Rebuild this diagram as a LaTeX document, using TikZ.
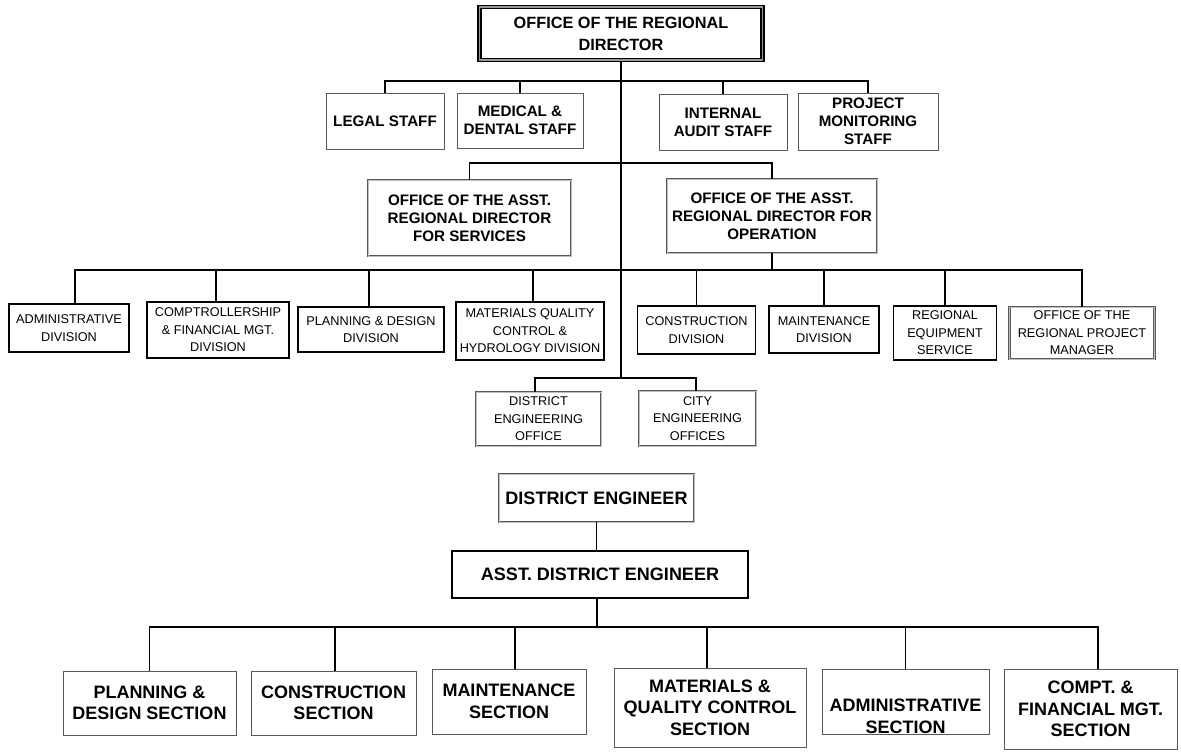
\documentclass[tikz,border=0pt]{standalone}
\usepackage{fontspec}
\setmainfont{Liberation Sans}
\begin{document}
\begin{tikzpicture}[x=1pt,y=-1pt,
  conn/.style={line width=1.2pt, black},
  base/.style={draw, rectangle, inner sep=0pt, align=center, fill=white},
  bigt/.style={font=\bfseries\fontsize{16.3}{22}\selectfont},
  stafft/.style={font=\bfseries\fontsize{15.2}{18}\selectfont},
  divt/.style={font=\fontsize{12.7}{17.5}\selectfont},
  sect/.style={font=\bfseries\fontsize{18}{21.5}\selectfont},
  plainbox/.style={base, draw=black!65, line width=0.8pt},
  divbox/.style={base, draw=black, line width=1.3pt},
  dblbox/.style={base, draw=black!65, double=black!25, double distance=1pt, line width=0.8pt},
  rdbox/.style={base, draw=black, double=black!40, double distance=1.2pt, line width=1.6pt},
  thickbox/.style={base, draw=black, line width=2.4pt},
]
\fill[white] (0,0) rectangle (1181,753);
\useasboundingbox (0,0) rectangle (1181,753);

% ---- top ----
\node[rdbox, bigt, minimum width=283pt, minimum height=53pt] (rd) at (621,33.5) {OFFICE OF THE REGIONAL\\DIRECTOR};

\node[plainbox, stafft, minimum width=118pt, minimum height=56pt] (legal) at (385,121) {LEGAL STAFF};
\node[plainbox, stafft, minimum width=126pt, minimum height=55pt] (medical) at (520,120.5) {MEDICAL \&\\DENTAL STAFF};
\node[plainbox, stafft, minimum width=128pt, minimum height=56pt] (internal) at (723,122) {INTERNAL\\AUDIT STAFF};
\node[plainbox, stafft, minimum width=140pt, minimum height=57pt] (project) at (868,121.5) {PROJECT\\MONITORING\\STAFF};

\node[dblbox, stafft, minimum width=203pt, minimum height=76pt] (svc) at (469.5,218) {OFFICE OF THE ASST.\\REGIONAL DIRECTOR\\FOR SERVICES};
\node[dblbox, stafft, minimum width=210pt, minimum height=74pt] (ops) at (772,216) {OFFICE OF THE ASST.\\REGIONAL DIRECTOR FOR\\OPERATION};

% ---- divisions ----
\node[divbox, divt, minimum width=120pt, minimum height=48pt] (admin) at (69,328) {ADMINISTRATIVE\\DIVISION};
\node[divbox, divt, minimum width=142pt, minimum height=56pt] (comp) at (218,330) {COMPTROLLERSHIP\\\&~FINANCIAL MGT.\\DIVISION};
\node[divbox, divt, minimum width=146pt, minimum height=45pt] (plan) at (371,329.5) {PLANNING \& DESIGN\\DIVISION};
\node[divbox, divt, minimum width=148pt, minimum height=58pt] (mat) at (530,331) {MATERIALS QUALITY\\CONTROL \&\\HYDROLOGY DIVISION};
\node[divbox, divt, minimum width=118pt, minimum height=48pt] (cons) at (696.5,330) {CONSTRUCTION\\DIVISION};
\node[divbox, divt, minimum width=110pt, minimum height=47pt] (maint) at (824,329.5) {MAINTENANCE\\DIVISION};
\node[divbox, divt, minimum width=103pt, minimum height=54pt] (regeq) at (945,333) {REGIONAL\\EQUIPMENT\\SERVICE};
\node[dblbox, divt, minimum width=145pt, minimum height=52pt] (rpm) at (1082,333) {OFFICE OF THE\\REGIONAL PROJECT\\MANAGER};

\node[dblbox, divt, minimum width=125pt, minimum height=54pt] (dist) at (538.5,419) {DISTRICT\\ENGINEERING\\OFFICE};
\node[dblbox, divt, minimum width=117pt, minimum height=55pt] (city) at (697.5,418.5) {CITY\\ENGINEERING\\OFFICES};

% ---- district office ----
\node[dblbox, sect, minimum width=195pt, minimum height=48pt] (de) at (596.5,498) {DISTRICT ENGINEER};
\node[thickbox, sect, minimum width=296pt, minimum height=47pt] (ade) at (600,574.5) {ASST. DISTRICT ENGINEER};

\node[plainbox, sect, minimum width=173pt, minimum height=64pt] (pds) at (149.5,703) {PLANNING \&\\DESIGN SECTION};
\node[plainbox, sect, minimum width=165pt, minimum height=64pt] (cs) at (333.5,703) {CONSTRUCTION\\SECTION};
\node[plainbox, sect, minimum width=154pt, minimum height=65pt] (ms) at (509,701.5) {MAINTENANCE\\SECTION};
\node[plainbox, sect, minimum width=192pt, minimum height=79pt] (mqs) at (710,707.5) {MATERIALS \&\\QUALITY CONTROL\\SECTION};
\node[sect, align=center, inner sep=0pt] (ast) at (905.5,716.5) {ADMINISTRATIVE\\SECTION};
\node[plainbox, fill=none, minimum width=167pt, minimum height=65pt] (as) at (905.5,701.5) {};
\node[plainbox, sect, minimum width=173pt, minimum height=80pt] (cfs) at (1090.5,709) {COMPT. \&\\FINANCIAL MGT.\\SECTION};

% ---- connectors ----
\coordinate (t1) at (621,81);
\coordinate (t2) at (621,163);
\coordinate (t3) at (621,270);
\coordinate (trunkend) at (621,378);
\coordinate (t4) at (597,627);

\draw[conn] (rd.south) -- (trunkend);
\draw[conn] (legal.north) |- (project.north |- t1) -- (project.north);
\draw[conn] (medical.north) -- (medical.north |- t1);
\draw[conn] (internal.north) -- (internal.north |- t1);

\draw[conn] (svc.north) |- (ops.north |- t2) -- (ops.north);
\draw[conn] (ops.south) -- (ops.south |- t3);

\draw[conn] ([xshift=6pt]admin.north) |- (rpm.north |- t3) -- (rpm.north);
\draw[conn] ([xshift=-2pt]comp.north) -- ([xshift=-2pt]comp.north |- t3);
\draw[conn] ([xshift=-2pt]plan.north) -- ([xshift=-2pt]plan.north |- t3);
\draw[conn] ([xshift=3pt]mat.north) -- ([xshift=3pt]mat.north |- t3);
\draw[conn] (cons.north) -- (cons.north |- t3);
\draw[conn] (maint.north) -- (maint.north |- t3);
\draw[conn] (regeq.north) -- (regeq.north |- t3);

\draw[conn] ([xshift=-3.5pt]dist.north) |- ([xshift=-1.5pt]city.north |- trunkend) -- ([xshift=-1.5pt]city.north);

\draw[conn] (de.south) -- (de.south |- ade.north);
\draw[conn] (ade.south -| t4) -- (t4);
\draw[conn] (pds.north) |- ([xshift=7.5pt]cfs.north |- t4) -- ([xshift=7.5pt]cfs.north);
\draw[conn] ([xshift=1.5pt]cs.north) -- ([xshift=1.5pt]cs.north |- t4);
\draw[conn] ([xshift=6pt]ms.north) -- ([xshift=6pt]ms.north |- t4);
\draw[conn] ([xshift=-3pt]mqs.north) -- ([xshift=-3pt]mqs.north |- t4);
\draw[conn] (as.north) -- (as.north |- t4);
\end{tikzpicture}
\end{document}
